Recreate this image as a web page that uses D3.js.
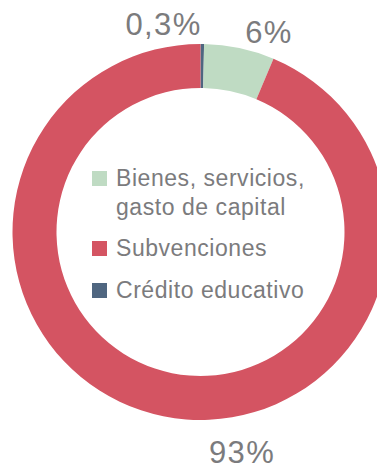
<!DOCTYPE html>
<html>
<head>
<meta charset="utf-8">
<script src="https://cdn.jsdelivr.net/npm/d3@7/dist/d3.min.js"></script>
<style>
  html, body { margin: 0; padding: 0; background: #fff; }
  svg { display: block; }
  text { font-family: "Liberation Sans", Arial, Helvetica, sans-serif; fill: #7b7b7d; }
</style>
</head>
<body>
<svg id="chart" width="377" height="470"></svg>
<script>
// Spending breakdown (percent of total)
const categories = ["Crédito educativo", "Bienes, servicios, gasto de capital", "Subvenciones"];
const values = [0.3, 6, 93];
const valueLabels = ["0,3%", "6%", "93%"];
const colors = ["#4f6680", "#bfdbc3", "#d45462"];

// Legend order and line breaks
const legendOrder = [1, 2, 0];
const legendLines = [["Crédito educativo"], ["Bienes, servicios,", "gasto de capital"], ["Subvenciones"]];

const width = 377, height = 470;
const cx = 200.5, cy = 232;
const outerR = 188, innerR = 144;

const svg = d3.select("#chart");
const g = svg.append("g").attr("transform", `translate(${cx},${cy})`);

const pie = d3.pie().sort(null).value(d => d);
const arcs = pie(values);
const arc = d3.arc().innerRadius(innerR).outerRadius(outerR);

g.selectAll("path.slice")
  .data(arcs)
  .join("path")
  .attr("class", "slice")
  .attr("d", arc)
  .attr("fill", (d, i) => colors[i]);

// Value labels placed outside the ring
const labelOffsets = [
  { dx: -37, dy: -197 },  // 0,3%
  { dx: 68.5, dy: -189 }, // 6%
  { dx: 41.5, dy: 231 }   // 93%
];
g.selectAll("text.value")
  .data(arcs)
  .join("text")
  .attr("class", "value")
  .attr("x", (d, i) => labelOffsets[i].dx)
  .attr("y", (d, i) => labelOffsets[i].dy)
  .attr("text-anchor", "middle")
  .style("font-size", "31px")
  .style("letter-spacing", "1.4px")
  .text((d, i) => valueLabels[i]);

// Legend inside the hole
const legend = svg.append("g").attr("transform", "translate(92,0)");
const legendY = [186, 256, 298];
legendOrder.forEach((ci, k) => {
  const row = legend.append("g").attr("transform", `translate(0,${legendY[k]})`);
  row.append("rect")
    .attr("x", 0).attr("y", -15)
    .attr("width", 15).attr("height", 15)
    .attr("fill", colors[ci]);
  const t = row.append("text")
    .attr("x", 24).attr("y", 0)
    .style("font-size", "23px")
    .style("letter-spacing", "0.55px");
  legendLines[ci].forEach((line, j) => {
    t.append("tspan").attr("x", 24).attr("dy", j === 0 ? 0 : 29).text(line);
  });
});
</script>
</body>
</html>
